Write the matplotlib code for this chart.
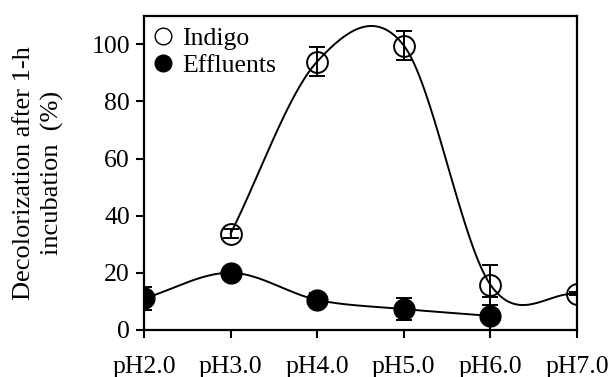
import numpy as np
import matplotlib
matplotlib.use('Agg')
import matplotlib.pyplot as plt

plt.rcParams['font.family'] = ['Liberation Serif', 'DejaVu Serif']

# ========== data ==========
ph_labels = ['pH2.0', 'pH3.0', 'pH4.0', 'pH5.0', 'pH6.0', 'pH7.0']
ph_pos = [2, 3, 4, 5, 6, 7]

indigo_x = [3, 4, 5, 6, 7]
indigo_y = [33.7, 94.0, 99.6, 15.8, 12.6]
indigo_err = [1.5, 5.0, 5.0, 7.0, 0.5]

eff_x = [2, 3, 4, 5, 6]
eff_y = [11.0, 20.0, 10.5, 7.3, 4.9]
eff_err = [4.0, 1.0, 2.5, 4.0, 6.5]


def smooth_curve(x, y, n=60):
    """Catmull-Rom style spline through the points (like the plotting program's spline)"""
    x = np.asarray(x, float)
    y = np.asarray(y, float)
    k = len(x)
    m = np.zeros(k)
    m[0] = (y[1] - y[0]) / (x[1] - x[0])
    m[-1] = (y[-1] - y[-2]) / (x[-1] - x[-2])
    for i in range(1, k - 1):
        m[i] = (y[i + 1] - y[i - 1]) / (x[i + 1] - x[i - 1])
    xs_all, ys_all = [], []
    for i in range(k - 1):
        h = x[i + 1] - x[i]
        t = np.linspace(0, 1, n)
        h00 = 2 * t ** 3 - 3 * t ** 2 + 1
        h10 = t ** 3 - 2 * t ** 2 + t
        h01 = -2 * t ** 3 + 3 * t ** 2
        h11 = t ** 3 - t ** 2
        xs_all.append(x[i] + t * h)
        ys_all.append(h00 * y[i] + h10 * h * m[i] + h01 * y[i + 1] + h11 * h * m[i + 1])
    return np.concatenate(xs_all), np.concatenate(ys_all)


fig = plt.figure(figsize=(6.1, 3.77), dpi=100)
ax = fig.add_axes([0.236, 0.125, 0.71, 0.833])

# smooth curves
sx, sy = smooth_curve(indigo_x, indigo_y)
ax.plot(sx, sy, color='black', lw=1.4, zorder=2)
sx, sy = smooth_curve(eff_x, eff_y)
ax.plot(sx, sy, color='black', lw=1.4, zorder=2)

ax.errorbar(indigo_x, indigo_y, yerr=indigo_err, fmt='o', ms=15, mfc='none',
            mec='black', mew=1.4, ecolor='black', elinewidth=1.4, capsize=6,
            capthick=1.4, zorder=3)
ax.errorbar(eff_x, eff_y, yerr=eff_err, fmt='o', ms=15, mfc='black',
            mec='black', ecolor='black', elinewidth=1.4, capsize=6,
            capthick=1.4, zorder=3)

h1, = ax.plot([], [], 'o', ms=12, mfc='none', mec='black', mew=1.0)
h2, = ax.plot([], [], 'o', ms=12, mfc='black', mec='black')
ax.legend([h1, h2], ['Indigo', 'Effluents'], loc='upper left', frameon=False,
          fontsize=18.5, handlelength=0.6, handletextpad=0.45, labelspacing=0.15,
          borderaxespad=0.2, borderpad=0.25)

ax.set_xlim(2, 7)
ax.set_ylim(0, 110)
ax.set_xticks(ph_pos)
ax.set_xticklabels(ph_labels)
ax.set_yticks([0, 20, 40, 60, 80, 100])
ax.tick_params(direction='out', length=6, width=1.5, labelsize=18.5, pad=4)
ax.tick_params(axis='x', pad=13)
for sp in ax.spines.values():
    sp.set_linewidth(1.6)

ax.set_ylabel('Decolorization after 1-h\nincubation  (%)', fontsize=19,
              linespacing=1.3, labelpad=20)

fig.savefig('out.png', dpi=100)
